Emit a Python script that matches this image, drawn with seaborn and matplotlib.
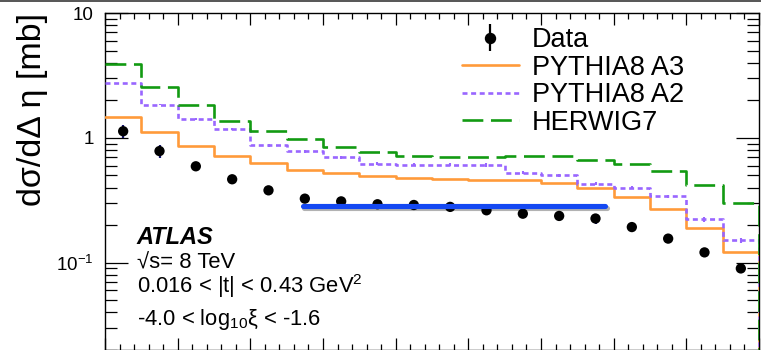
import numpy as np
import pandas as pd
import matplotlib
matplotlib.use("Agg")
import matplotlib.pyplot as plt
import seaborn as sns
from matplotlib.ticker import MultipleLocator, LogLocator, NullFormatter
from matplotlib.lines import Line2D
import matplotlib.patheffects as pe

# ---------------- data ----------------
bin_edges = [0.0, 0.5, 1.0, 1.5, 2.0, 2.5, 3.0, 3.5, 4.0, 4.5,
             5.0, 5.5, 6.0, 6.5, 7.0, 7.5, 8.0, 8.5, 9.0]
bin_centers = [0.25, 0.75, 1.25, 1.75, 2.25, 2.75, 3.25, 3.75, 4.25,
               4.75, 5.25, 5.75, 6.25, 6.75, 7.25, 7.75, 8.25, 8.75]

data_y = [1.13, 0.784, 0.592, 0.466, 0.380, 0.326, 0.310, 0.294, 0.290,
          0.280, 0.263, 0.247, 0.237, 0.226, 0.193, 0.156, 0.121, 0.090]
data_err = [0.13, 0.10, 0.04, 0.03, 0.02, 0.02, 0.02, 0.02, 0.02,
            0.02, 0.02, 0.02, 0.02, 0.02, 0.015, 0.012, 0.01, 0.008]

pythia_a3 = [1.48, 1.107, 0.855, 0.711, 0.629, 0.557, 0.520, 0.498, 0.480,
             0.472, 0.463, 0.457, 0.438, 0.397, 0.336, 0.267, 0.189, 0.122]
pythia_a2 = [2.75, 1.85, 1.41, 1.17, 0.871, 0.780, 0.701, 0.622, 0.610,
             0.610, 0.606, 0.527, 0.501, 0.430, 0.400, 0.340, 0.223, 0.151]
pythia_a2_err = [0.02, 0.02, 0.02, 0.02, 0.02, 0.02, 0.02, 0.02, 0.02,
                 0.02, 0.02, 0.015, 0.015, 0.013, 0.012, 0.011, 0.01, 0.008]
herwig7 = [3.92, 2.57, 1.82, 1.373, 1.138, 0.978, 0.844, 0.770, 0.720,
           0.698, 0.702, 0.711, 0.711, 0.661, 0.622, 0.543, 0.417, 0.301]

plateau_x = [2.72, 6.88]
plateau_y = [0.285, 0.285]

x_range = [0.0, 9.0]
y_range = [0.02, 10.0]
hist_floor = 1e-3

series_labels = ["Data", "PYTHIA8 A3", "PYTHIA8 A2", "HERWIG7"]

# ---------------- style ----------------
sns.set_theme(style="ticks")
plt.rcParams['font.family'] = ['Liberation Sans', 'DejaVu Sans']
plt.rcParams['mathtext.fontset'] = 'custom'
plt.rcParams['mathtext.rm'] = 'Liberation Sans'
plt.rcParams['mathtext.it'] = 'Liberation Sans:italic'
plt.rcParams['mathtext.bf'] = 'Liberation Sans:bold'
plt.rcParams['lines.scale_dashes'] = False
for k in ['text.color', 'axes.labelcolor', 'xtick.color', 'ytick.color', 'axes.edgecolor']:
    plt.rcParams[k] = 'black'

C_A3 = '#ff9a3a'
C_A2 = '#9966ff'
C_H7 = '#129a12'
C_BLUE = '#1448f2'

fig = plt.figure(figsize=(7.61, 3.5), dpi=100)
ax = fig.add_axes([105 / 761, 0.0, 654 / 761, 337 / 350])
ax.set_yscale('log')
ax.set_xlim(*x_range)
ax.set_ylim(*y_range)

# histograms as steps
def steps(vals):
    return pd.DataFrame({"x": bin_edges, "y": list(vals) + [hist_floor]})

d = steps(pythia_a3)
sns.lineplot(data=d, x="x", y="y", ax=ax, drawstyle='steps-post', color=C_A3,
             lw=1.9, estimator=None, sort=False, zorder=3)
d = steps(pythia_a2)
sns.lineplot(data=d, x="x", y="y", ax=ax, drawstyle='steps-post', color=C_A2,
             lw=1.9, linestyle=(0, (3.6, 2.6)), estimator=None, sort=False, zorder=3)
ax.errorbar(bin_centers, pythia_a2, yerr=pythia_a2_err, fmt='none',
            ecolor=C_A2, elinewidth=1.5, capsize=0, zorder=3)
d = steps(herwig7)
sns.lineplot(data=d, x="x", y="y", ax=ax, drawstyle='steps-post', color=C_H7,
             lw=1.9, linestyle=(0, (15, 5.5)), estimator=None, sort=False, zorder=3)

# data points
ax.errorbar(bin_centers, data_y, yerr=data_err, fmt='none', ecolor='#14146e',
            elinewidth=1.6, capsize=0, zorder=4)
sns.scatterplot(x=bin_centers, y=data_y, ax=ax, color='black', s=55,
                edgecolor='none', zorder=5)

# blue highlight line with shadow
sns.lineplot(x=plateau_x, y=plateau_y, ax=ax, color=C_BLUE, lw=3.7,
             estimator=None, sort=False, zorder=6,
             path_effects=[pe.SimpleLineShadow(offset=(1.2, -1.8), shadow_color='black', alpha=0.3),
                           pe.Normal()])

# ticks
ax.xaxis.set_major_locator(MultipleLocator(1))
ax.xaxis.set_minor_locator(MultipleLocator(0.2))
ax.set_yticks([0.1, 1, 10])
ax.set_yticklabels([r'$10^{-1}$', '1', '10'])
ax.yaxis.set_minor_locator(LogLocator(base=10, subs=np.arange(2, 10)))
ax.yaxis.set_minor_formatter(NullFormatter())
ax.tick_params(which='both', direction='in', top=True, right=True, width=0.9,
               labelbottom=False)
ax.tick_params(axis='x', which='major', length=8.6)
ax.tick_params(axis='x', which='minor', length=4.3)
ax.tick_params(axis='y', which='major', length=16.5, labelsize=13.5, pad=8)
ax.tick_params(axis='y', which='minor', length=8.6)
for s in ax.spines.values():
    s.set_linewidth(1.0)
ax.set_xlabel('')
ax.set_ylabel('')

# y label
fig.text(33 / 761, 1 - 110 / 350, 'dσ/dΔ η [mb]', rotation=90, ha='center',
         va='center', fontsize=24.5)

# legend
h_data = ax.errorbar([-5], [1], yerr=[[0.25], [0.25]], fmt='o', color='black',
                     ms=7.2, elinewidth=1.6, capsize=0)
h_a3 = Line2D([], [], color=C_A3, lw=1.9)
h_a2 = Line2D([], [], color=C_A2, lw=1.9, linestyle=(0, (3.6, 2.6)))
h_h7 = Line2D([], [], color=C_H7, lw=1.9, linestyle=(0, (15, 5.5)))
ax.legend([h_data, h_a3, h_a2, h_h7], series_labels, loc='upper left',
          bbox_to_anchor=(461.7 / 761, 1 - 27 / 350), bbox_transform=fig.transFigure,
          frameon=False, fontsize=19.5, handlelength=2.1, handletextpad=0.5,
          labelspacing=0.06, borderpad=0, borderaxespad=0)

# annotations
x0 = 136.7 / 761
fig.text(x0, 1 - 244 / 350, 'ATLAS', fontsize=17, fontweight='bold',
         fontstyle='italic', va='baseline')
fig.text(x0, 1 - 268 / 350, '√s= 8 TeV', fontsize=15.8, va='baseline')
fig.text(x0, 1 - 293 / 350, r'0.016 < |t| < 0.43 GeV$^{2}$', fontsize=15.8, va='baseline')
fig.text(x0, 1 - 325 / 350, r'-4.0 < log$_{10}$ξ < -1.6', fontsize=15.8, va='baseline')

# thin frame line at the top of the figure
fig.add_artist(Line2D([0, 1], [0.998, 0.998], transform=fig.transFigure,
                      color='#555555', lw=1.4))

fig.savefig('out.png', dpi=100)
